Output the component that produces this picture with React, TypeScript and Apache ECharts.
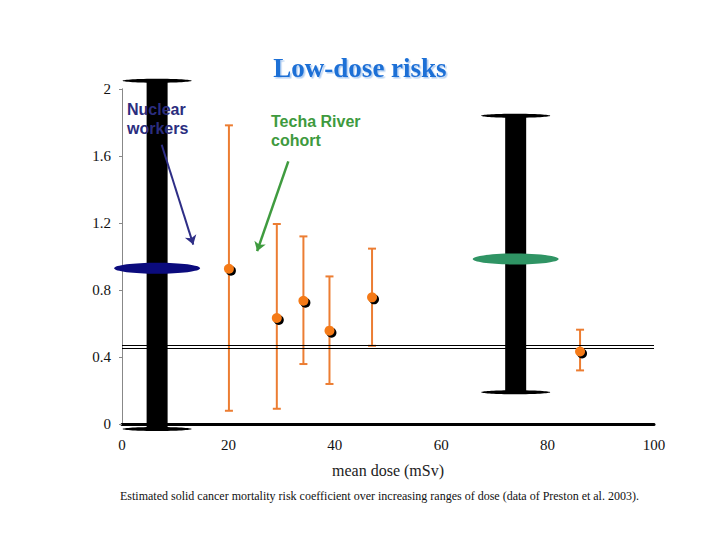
import React, { useEffect, useRef } from "react";
import * as echarts from "echarts";

// ---- data ----
// orange points: mean dose (mSv), risk coefficient, lower / upper bound
const ORANGE_DOSE = [20.1, 29.1, 34.1, 39.0, 47.0, 86.1];
const ORANGE_RISK = [0.927, 0.633, 0.736, 0.557, 0.756, 0.433];
const ORANGE_LOW = [0.079, 0.091, 0.358, 0.239, 0.467, 0.32];
const ORANGE_HIGH = [1.783, 1.194, 1.12, 0.881, 1.047, 0.563];

// wide bars: [dose, low, high, central]
const NUCLEAR_WORKERS = [6.6, -0.03, 2.05, 0.93];
const TECHA_TOTAL = [74.0, 0.19, 1.84, 0.985];

// double reference line
const REFERENCE_LINES = [0.4675, 0.4525];

// annotation arrows [[x1,y1],[x2,y2]] in data units
const ARROW_NUCLEAR = [[7.46, 1.667], [13.4, 1.071]];
const ARROW_TECHA = [[31.26, 1.568], [25.4, 1.032]];

const TITLE = "Low-dose risks";
const X_NAME = "mean dose (mSv)";
const CAPTION =
  "Estimated solid cancer mortality risk coefficient over increasing ranges of dose (data of Preston et al. 2003).";

const SERIF = "Liberation Serif";
const SANS = "Liberation Sans";

function bigBar(color: string) {
  return (params: any, api: any) => {
    const x = api.value(0);
    const pLo = api.coord([x, api.value(1)]);
    const pHi = api.coord([x, api.value(2)]);
    const pMid = api.coord([x, api.value(3)]);
    return {
      type: "group",
      children: [
        {
          type: "rect",
          shape: { x: pHi[0] - 10.5, y: pHi[1], width: 21, height: pLo[1] - pHi[1] },
          style: { fill: "#000" },
        },
        { type: "ellipse", shape: { cx: pHi[0], cy: pHi[1], rx: 34.5, ry: 2 }, style: { fill: "#000" } },
        { type: "ellipse", shape: { cx: pLo[0], cy: pLo[1], rx: 34.5, ry: 2 }, style: { fill: "#000" } },
        { type: "ellipse", shape: { cx: pMid[0], cy: pMid[1], rx: 43, ry: 5.5 }, style: { fill: color } },
      ],
    };
  };
}

function errorBar(params: any, api: any) {
  const x = api.value(0);
  const pLo = api.coord([x, api.value(1)]);
  const pHi = api.coord([x, api.value(2)]);
  const stroke = { stroke: "#EC7D32", lineWidth: 2 };
  return {
    type: "group",
    children: [
      { type: "line", shape: { x1: pLo[0], y1: pLo[1], x2: pHi[0], y2: pHi[1] }, style: stroke },
      { type: "line", shape: { x1: pLo[0] - 4, y1: pLo[1], x2: pLo[0] + 4, y2: pLo[1] }, style: stroke },
      { type: "line", shape: { x1: pHi[0] - 4, y1: pHi[1], x2: pHi[0] + 4, y2: pHi[1] }, style: stroke },
    ],
  };
}

export default function App() {
  const ref = useRef<HTMLDivElement>(null);
  useEffect(() => {
    if (!ref.current) return;
    const chart = echarts.init(ref.current, undefined, { renderer: "svg" });
    const points = ORANGE_DOSE.map((d, i) => [d, ORANGE_RISK[i]]);
    const bars = ORANGE_DOSE.map((d, i) => [d, ORANGE_LOW[i], ORANGE_HIGH[i]]);
    chart.setOption({
      animation: false,
      backgroundColor: "#fff",
      title: {
        text: TITLE,
        left: "center",
        top: 49,
        textStyle: {
          fontFamily: SERIF,
          fontWeight: "bold",
          fontSize: 27,
          color: "#1E6FD6",
          textShadowColor: "rgba(30,111,214,0.35)",
          textShadowOffsetX: 1.5,
          textShadowOffsetY: 1.5,
          textShadowBlur: 1,
        },
      },
      grid: { left: 122, right: 66, top: 89, bottom: 116 },
      xAxis: [
        {
          type: "value",
          min: 0,
          max: 100,
          interval: 20,
          name: X_NAME,
          nameLocation: "middle",
          nameGap: 38,
          nameTextStyle: { fontFamily: SERIF, fontSize: 16, color: "#222" },
          axisLine: { show: true, lineStyle: { color: "#000", width: 3 } },
          axisTick: { show: false },
          splitLine: { show: false },
          axisLabel: { fontFamily: SERIF, fontSize: 15, color: "#111", margin: 13 },
        },
        {
          type: "value",
          position: "top",
          min: 0,
          max: 100,
          axisLine: { show: true, lineStyle: { color: "#000", width: 1.5 } },
          axisTick: { show: false },
          axisLabel: { show: false },
          splitLine: { show: false },
        },
      ],
      yAxis: [
        {
          type: "value",
          min: 0,
          max: 2,
          interval: 0.4,
          axisLine: { show: true, lineStyle: { color: "#888", width: 1 } },
          axisTick: { show: true, length: 3, lineStyle: { color: "#888" } },
          splitLine: { show: false },
          axisLabel: { fontFamily: SERIF, fontSize: 15, color: "#111", margin: 11 },
        },
        {
          type: "value",
          position: "right",
          min: 0,
          max: 2,
          axisLine: { show: true, lineStyle: { color: "#888", width: 1 } },
          axisTick: { show: false },
          axisLabel: { show: false },
          splitLine: { show: false },
        },
      ],
      series: [
        {
          name: "Nuclear workers",
          type: "custom",
          clip: false,
          renderItem: bigBar("#0B0B7D"),
          data: [NUCLEAR_WORKERS],
          z: 3,
        },
        {
          name: "Techa River total",
          type: "custom",
          clip: false,
          renderItem: bigBar("#2F9464"),
          data: [TECHA_TOTAL],
          z: 3,
        },
        {
          name: "ranges",
          type: "custom",
          renderItem: errorBar,
          data: bars,
          z: 4,
          markLine: {
            silent: true,
            symbol: "none",
            label: { show: false },
            lineStyle: { color: "#000", width: 1, type: "solid", opacity: 1 },
            data: REFERENCE_LINES.map((v) => ({ yAxis: v })),
          },
        },
        {
          name: "shadow",
          type: "scatter",
          data: points,
          symbolSize: 10,
          symbolOffset: [2, 2],
          itemStyle: { color: "#000", opacity: 1 },
          z: 5,
        },
        {
          name: "risk",
          type: "scatter",
          data: points,
          symbolSize: 10,
          itemStyle: { color: "#F57A17", opacity: 1 },
          z: 6,
          markLine: {
            silent: true,
            symbol: ["none", "arrow"],
            symbolSize: 9,
            label: { show: false },
            data: [
              [
                { coord: ARROW_NUCLEAR[0], lineStyle: { color: "#2E2E86", width: 2, type: "solid" } },
                { coord: ARROW_NUCLEAR[1] },
              ],
              [
                { coord: ARROW_TECHA[0], lineStyle: { color: "#3F9B3F", width: 2.5, type: "solid" } },
                { coord: ARROW_TECHA[1] },
              ],
            ],
          },
        },
      ],
      graphic: [
        {
          type: "text",
          left: 127,
          top: 100,
          z: 10,
          style: {
            text: "Nuclear\nworkers",
            fontFamily: SANS,
            fontWeight: "bold",
            fontSize: 16,
            fill: "#2B2D7E",
            lineHeight: 19,
          },
        },
        {
          type: "text",
          left: 271,
          top: 112,
          z: 10,
          style: {
            text: "Techa River\ncohort",
            fontFamily: SANS,
            fontWeight: "bold",
            fontSize: 16,
            fill: "#3E9A3E",
            lineHeight: 19,
          },
        },
        {
          type: "text",
          left: 120,
          top: 490,
          style: {
            text: CAPTION,
            fontFamily: SERIF,
            fontSize: 12,
            fill: "#111",
          },
        },
      ],
    });
    return () => chart.dispose();
  }, []);
  return (
    <div
      ref={ref}
      style={{ position: "absolute", left: 0, top: 0, width: 720, height: 540, background: "#fff" }}
    />
  );
}
